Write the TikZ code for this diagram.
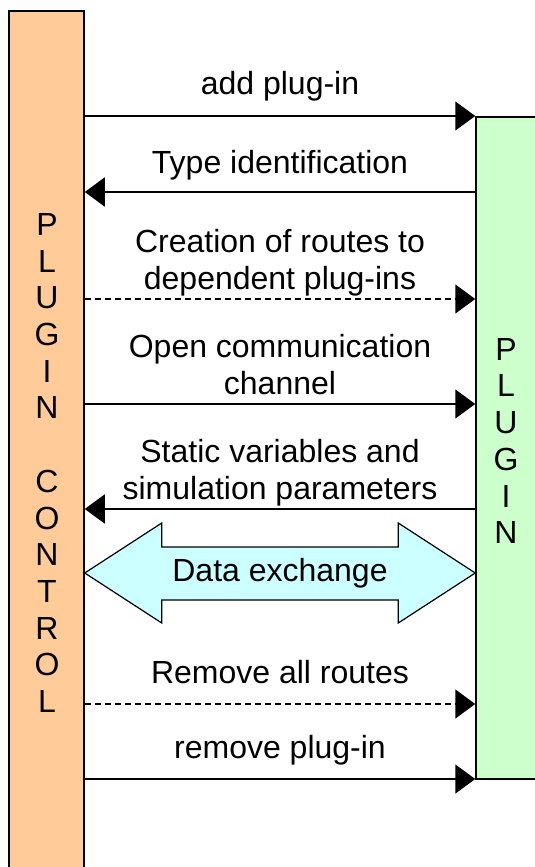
\documentclass[tikz,border=0pt]{standalone}
\usepackage{fontspec}
\setmainfont{Liberation Sans}
\usetikzlibrary{arrows.meta,calc}
\definecolor{ctrlfill}{HTML}{FFCC99}
\definecolor{plugfill}{HTML}{CCFFCC}
\definecolor{datafill}{HTML}{CCFFFF}
\tikzset{
  bar/.style={draw=black, line width=1.5pt, minimum width=#1, inner sep=0pt},
  msg/.style={line width=1.5pt, -{Triangle[length=20pt,width=29pt]}},
  dashedmsg/.style={msg, dash pattern=on 6pt off 4pt},
  lbl/.style={font=\fontsize{32}{36.5}\selectfont, align=center, inner sep=0pt},
  vlbl/.style={font=\fontsize{32}{36.7}\selectfont, align=center, inner sep=0pt},
}
\begin{document}
\begin{tikzpicture}[x=1pt,y=-1pt]
\useasboundingbox (0,0) rectangle (535,867);
% bars
\node[bar=75pt, fill=ctrlfill, minimum height=880pt] (pc) at (46.5,451) {};
\node[bar=69pt, fill=plugfill, minimum height=662pt] (pl) at (510.5,448) {};
% vertical labels
\node[vlbl] (pctext) at (47,463) {P\\L\\U\\G\\I\\N\\[0pt] \\C\\O\\N\\T\\R\\O\\L};
\node[vlbl] (pltext) at (506,441) {P\\L\\U\\G\\I\\N};
% messages
\draw[msg] (pc.east |- 0,116) -- (pl.west |- 0,116);
\draw[msg] (pl.west |- 0,192) -- (pc.east |- 0,192);
\draw[dashedmsg] (pc.east |- 0,299) -- (pl.west |- 0,299);
\draw[msg] (pc.east |- 0,404) -- (pl.west |- 0,404);
\draw[msg] (pl.west |- 0,509) -- (pc.east |- 0,509);
\draw[dashedmsg] (pc.east |- 0,704) -- (pl.west |- 0,704);
\draw[msg] (pc.east |- 0,779) -- (pl.west |- 0,779);
% labels (base anchor = baseline of last line)
\node[lbl, anchor=base] (l1) at (280,94) {add plug-in};
\node[lbl, anchor=base] (l2) at (280,173) {Type identification};
\node[lbl, anchor=base] (l3) at (280,289) {Creation of routes to\\dependent plug-ins};
\node[lbl, anchor=base] (l4) at (280,394) {Open communication\\channel};
\node[lbl, anchor=base] (l5) at (280,499) {Static variables and\\simulation parameters};
\node[lbl, anchor=base] (l7) at (280,683) {Remove all routes};
\node[lbl, anchor=base] (l8) at (280,758) {remove plug-in};
% data exchange double arrow
\coordinate (dl) at (pc.east |- 0,573);
\coordinate (dr) at (pl.west |- 0,573);
\draw[line width=1.2pt, fill=datafill, line join=miter]
  (dl) -- ++(77,-50) -- ++(0,24) -- ($(dr)+(-77,-26)$) -- ++(0,-24) -- (dr)
  -- ++(-77,50) -- ++(0,-23) -- ($(dl)+(77,27)$) -- ++(0,23) -- cycle;
\node[lbl] (l6) at ($(dl)!0.5!(dr)$) {Data exchange};
\end{tikzpicture}
\end{document}
